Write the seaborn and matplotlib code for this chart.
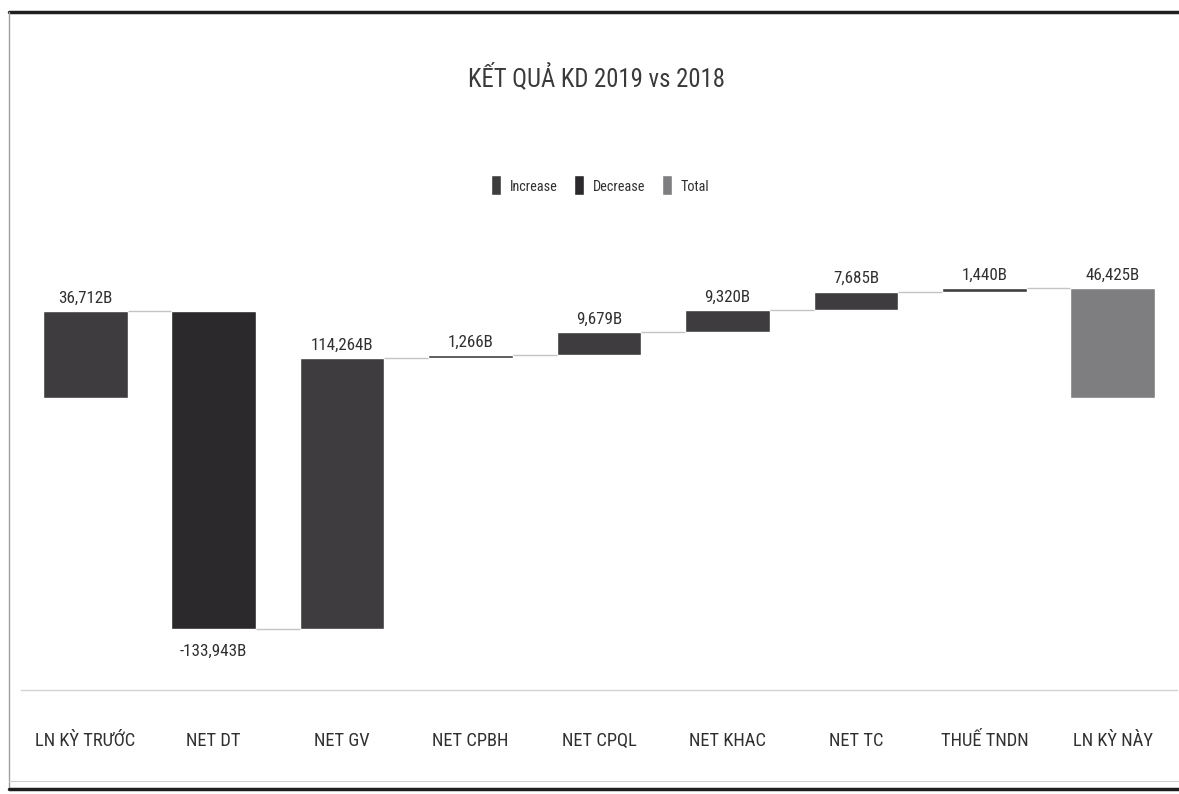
import matplotlib
matplotlib.use("Agg")
import matplotlib.pyplot as plt
from matplotlib import font_manager as fm
from matplotlib.patches import Patch
from matplotlib.lines import Line2D
import pandas as pd
import seaborn as sns

# chart data (billions)
categories = ["LN KỲ TRƯỚC", "NET DT", "NET GV", "NET CPBH", "NET CPQL",
              "NET KHAC", "NET TC", "THUẾ TNDN", "LN KỲ NÀY"]
values = [36712, -133943, 114264, 1266, 9679, 9320, 7685, 1440, 46425]
kinds = ["Increase", "Decrease", "Increase", "Increase", "Increase",
         "Increase", "Increase", "Increase", "Total"]

colors = {"Increase": "#3e3c3f", "Decrease": "#2b292c", "Total": "#7e7e80"}

# floating bar bottoms from the running total
bottoms = []
running = 0
for v, k in zip(values, kinds):
    if k == "Total":
        bottoms.append(0)
        running = v
    else:
        bottoms.append(running)
        running += v
df = pd.DataFrame({"cat": categories, "value": values, "kind": kinds, "bottom": bottoms})
df["top"] = df["bottom"] + df["value"]

# pick a narrow font if one is installed (the original uses a condensed face)
installed = {f.name for f in fm.fontManager.ttflist}
main_font = "Liberation Sans"
for fam in ["Liberation Sans Narrow", "Roboto Condensed", "Open Sans Condensed",
            "Noto Sans Condensed", "DejaVu Sans Condensed"]:
    if fam in installed:
        main_font = fam
        break

sns.set_theme(style="white")
plt.rcParams["font.family"] = [main_font, "DejaVu Sans"]

fig = plt.figure(figsize=(11.79, 7.94), dpi=100)
ax = fig.add_axes([21 / 1179, 1 - 690 / 794, 1156 / 1179, 420 / 794])

bar_w = 0.66
for k in ["Increase", "Decrease", "Total"]:
    sub = df[df["kind"] == k]
    sns.barplot(data=sub, x="cat", y="value", order=categories, color=colors[k],
                bottom=sub["bottom"].tolist(), width=bar_w, errorbar=None,
                saturation=1, ax=ax)

# connector lines between bars
level = df["top"].tolist()
for i in range(len(categories) - 1):
    ax.hlines(level[i], i + bar_w / 2, i + 1 - bar_w / 2, color="#c4c4c4", lw=1)

# data labels
labels = []
for i, row in df.iterrows():
    txt = f"{row['value']:,}B"
    if row["value"] >= 0:
        t = ax.annotate(txt, (i, row["top"]), xytext=(0, 4), textcoords="offset points",
                        ha="center", va="bottom", fontsize=13, color="#303030")
    else:
        t = ax.annotate(txt, (i, row["top"]), xytext=(0, -11), textcoords="offset points",
                        ha="center", va="top", fontsize=13, color="#303030")
    labels.append(t)

ax.set_xlim(-0.5, len(categories) - 0.5)
ax.set_ylim(-123000, 54200)
ax.set_xlabel("")
ax.set_ylabel("")
ax.set_yticks([])
for s in ["top", "right", "left"]:
    ax.spines[s].set_visible(False)
ax.spines["bottom"].set_color("#d4d4d4")
ax.spines["bottom"].set_linewidth(1)
ax.tick_params(axis="x", length=0, pad=30, labelsize=13.5, labelcolor="#303030")
ax.patch.set_alpha(0)

title = fig.text(0.506, 1 - 77 / 794, "KẾT QUẢ KD 2019 vs 2018", ha="center", va="center",
                 fontsize=21, color="#3a3a3a")

handles = [Patch(facecolor=colors[k], label=k) for k in ["Increase", "Decrease", "Total"]]
leg = fig.legend(handles=handles, loc="center", bbox_to_anchor=(0.509, 1 - 185 / 794),
                 ncol=3, frameon=False, fontsize=13, handlelength=0.55, handleheight=1.3,
                 handletextpad=0.5, columnspacing=0.9, labelcolor="#303030")


# size the text so its width matches the widths measured on the original
def fit_size(ref_text, target_px, others):
    fig.canvas.draw()
    w = ref_text.get_window_extent().width
    size = ref_text.get_fontsize() * target_px / w
    for t in others:
        t.set_fontsize(size)


fit_size(title, 257, [title])
fit_size(labels[2], 63, labels)
fit_size(ax.get_xticklabels()[0], 100, ax.get_xticklabels())
fit_size(leg.get_texts()[0], 48, leg.get_texts())

# outer frame of the scanned chart
fig.add_artist(Line2D([9 / 1179, 1], [1 - 12 / 794] * 2, color="#1e1e1e", lw=2.5))
fig.add_artist(Line2D([9 / 1179, 9 / 1179], [1 - 12 / 794, 1 - 788 / 794], color="#a0a0a0", lw=1))
fig.add_artist(Line2D([9 / 1179, 1], [1 - 781 / 794] * 2, color="#d0d0d0", lw=0.8))
fig.add_artist(Line2D([9 / 1179, 1], [1 - 789 / 794] * 2, color="#1e1e1e", lw=2.5))

fig.savefig("out.png", dpi=100)
